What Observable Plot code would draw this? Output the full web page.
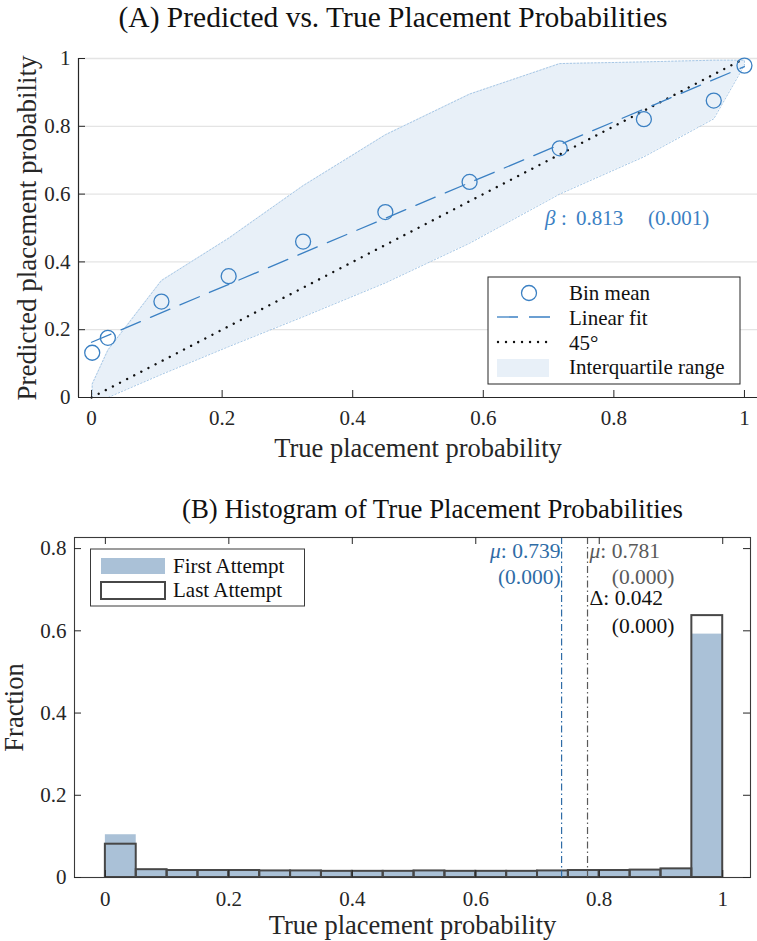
<!DOCTYPE html>
<html><head><meta charset="utf-8">
<script src="https://cdn.jsdelivr.net/npm/d3@7"></script>
<script src="https://cdn.jsdelivr.net/npm/@observablehq/plot@0.6"></script>
<style>
body{margin:0;background:#fff;}
svg{display:block;}
svg text, svg tspan{font-family:"Liberation Serif", serif !important;}
</style></head><body>
<script>
// ---------- Panel A data ----------
const titleA = "(A) Predicted vs. True Placement Probabilities";
const binX    = [0.001, 0.025, 0.107, 0.210, 0.324, 0.450, 0.579, 0.717, 0.846, 0.953, 1.000];
const binMean = [0.132, 0.176, 0.283, 0.358, 0.460, 0.547, 0.636, 0.735, 0.821, 0.876, 0.979];
const iqrHigh = [0.040, 0.140, 0.345, 0.470, 0.625, 0.775, 0.895, 0.985, 0.990, 0.995, 0.995];
const iqrLow  = [0.000, 0.000, 0.068, 0.150, 0.238, 0.338, 0.455, 0.600, 0.710, 0.822, 0.980];
const fitSlope = 0.813, fitSlopeSE = 0.001, fitIntercept = 0.163;
const lineX = [0, 1];
const xTicksA = [0, 0.2, 0.4, 0.6, 0.8, 1];
const yTicksA = [0, 0.2, 0.4, 0.6, 0.8, 1];
const xLabel = "True placement probability";
const yLabelA = "Predicted placement probability";
const legendA = ["Bin mean", "Linear fit", "45°", "Interquartile range"];

// ---------- Panel B data ----------
const titleB = "(B) Histogram of True Placement Probabilities";
const binWidth = 0.05;
const binStart = [0,0.05,0.1,0.15,0.2,0.25,0.3,0.35,0.4,0.45,0.5,0.55,0.6,0.65,0.7,0.75,0.8,0.85,0.9,0.95];
const firstAttempt = [0.104,0.018,0.016,0.016,0.016,0.015,0.015,0.015,0.014,0.014,0.015,0.015,0.015,0.015,0.016,0.018,0.018,0.019,0.022,0.592];
const lastAttempt  = [0.081,0.019,0.017,0.017,0.017,0.016,0.016,0.015,0.015,0.015,0.016,0.015,0.015,0.015,0.016,0.017,0.017,0.018,0.021,0.637];
const meanFirst = 0.739, meanLast = 0.781, meanDiff = 0.042;
const seFirst = 0.000, seLast = 0.000, seDiff = 0.000;
const xTicksB = [0, 0.2, 0.4, 0.6, 0.8, 1];
const yTicksB = [0, 0.2, 0.4, 0.6, 0.8];
const yLabelB = "Fraction";
const seriesB = ["First Attempt", "Last Attempt"];

// ---------- styles ----------
const FONT = "Liberation Serif";
const blue = "#3b80c3";
const axisCol = "#262626";
const fmt = d => String(d);

// ---------- Panel A ----------
const bins = binX.map((x, i) => ({x, y: binMean[i], lo: iqrLow[i], hi: iqrHigh[i]}));
const outline = [...bins.map(d => ({x: d.x, y: d.hi})), ...bins.slice().reverse().map(d => ({x: d.x, y: d.lo})), {x: bins[0].x, y: bins[0].hi}];
const fitLine = lineX.map(x => ({x, y: fitIntercept + fitSlope * x}));
const diag = lineX.map(x => ({x, y: x}));
const xDomA = [-0.02, 1.02];
const hA = 470, mtA = 58, mbA = 73, mlA = 78, mrA = 0;
const frameHA = hA - mtA - mbA, frameWA = 757 - mlA - mrA;

const plotA = Plot.plot({
  width: 757, height: hA, marginLeft: mlA, marginRight: mrA, marginTop: mtA, marginBottom: mbA,
  style: {fontFamily: FONT, fontSize: "21px", color: axisCol, background: "white", overflow: "visible"},
  x: {domain: xDomA},
  y: {domain: [0, 1]},
  marks: [
    Plot.ruleY(yTicksA.slice(1), {y: d => d, stroke: "#e4e4e4", strokeWidth: 1.3}),
    Plot.areaY(bins, {x: "x", y1: "lo", y2: "hi", fill: "#e8f0f8", curve: "linear"}),
    Plot.line(outline, {x: "x", y: "y", stroke: "#a8c8e6", strokeWidth: 1, strokeDasharray: "1.5,2"}),
    Plot.line(diag, {x: "x", y: "y", stroke: "#111", strokeWidth: 2.4, strokeDasharray: "0.01,8", strokeLinecap: "round"}),
    Plot.line(fitLine, {x: "x", y: "y", stroke: blue, strokeWidth: 1.3, strokeDasharray: "21,11"}),
    Plot.dot(bins, {x: "x", y: "y", r: 7.5, stroke: blue, strokeWidth: 1.3, fill: "none"}),
    Plot.ruleY([0], {stroke: axisCol, strokeWidth: 1.2}),
    Plot.ruleX([xDomA[0]], {stroke: axisCol, strokeWidth: 1.2}),
    Plot.tickX(xTicksA, {x: d => d, insetTop: frameHA - 7, stroke: axisCol}),
    Plot.tickY(yTicksA, {y: d => d, insetRight: frameWA - 7, stroke: axisCol}),
    Plot.axisX({ticks: xTicksA, tickSize: 0, tickPadding: 13, tickFormat: fmt, label: null}),
    Plot.axisY({ticks: yTicksA, tickSize: 0, tickPadding: 8, tickFormat: fmt, label: null}),
    Plot.text([xLabel], {text: d => d, frameAnchor: "bottom", textAnchor: "middle", lineAnchor: "middle", dy: 51, fontSize: 26.5}),
    Plot.text([yLabelA], {text: d => d, frameAnchor: "left", textAnchor: "middle", lineAnchor: "middle", rotate: -90, dx: -51, fontSize: 27}),
    Plot.text([titleA], {text: d => d, frameAnchor: "top", textAnchor: "middle", lineAnchor: "middle", dx: -25, dy: -41, fontSize: 29.5, fill: "#111"})
  ]
});
document.body.appendChild(plotA);

{
  const s = d3.select(plotA);
  const g = s.append("g").attr("font-family", FONT).attr("font-size", 21).attr("fill", "#111").attr("text-anchor", "start");
  g.append("rect").attr("x", 488).attr("y", 277).attr("width", 252).attr("height", 107)
    .attr("fill", "white").attr("stroke", axisCol).attr("stroke-width", 1);
  g.append("circle").attr("cx", 529).attr("cy", 293).attr("r", 7.5).attr("fill", "none").attr("stroke", blue).attr("stroke-width", 1.3);
  g.append("line").attr("x1", 497).attr("x2", 553).attr("y1", 317).attr("y2", 317).attr("stroke", blue).attr("stroke-width", 1.3).attr("stroke-dasharray", "21,11");
  g.append("line").attr("x1", 498).attr("x2", 553).attr("y1", 342).attr("y2", 342).attr("stroke", "#111").attr("stroke-width", 2.4).attr("stroke-dasharray", "0.01,8").attr("stroke-linecap", "round");
  g.append("rect").attr("x", 497).attr("y", 359).attr("width", 52).attr("height", 18).attr("fill", "#e8f0f8");
  const ys = [293, 318, 343, 367];
  legendA.forEach((t, i) => g.append("text").attr("x", 569).attr("y", ys[i]).attr("dy", "0.35em").text(t));

  const b = s.append("text").attr("font-family", FONT).attr("font-size", 21).attr("fill", blue).attr("text-anchor", "start").attr("y", 218).attr("dy", "0.35em");
  b.append("tspan").attr("x", 545).attr("font-style", "italic").text("β");
  b.append("tspan").attr("x", 561).text(":");
  b.append("tspan").attr("x", 576).text(fitSlope.toFixed(3));
  b.append("tspan").attr("x", 648).text(`(${fitSlopeSE.toFixed(3)})`);
}

// ---------- Panel B ----------
const hist = binStart.map((x1, i) => ({x1, x2: x1 + binWidth, first: firstAttempt[i], last: lastAttempt[i]}));
const hB = 471, mtB = 67, mbB = 64, mlB = 74, mrB = 7;
const frameHB = hB - mtB - mbB, frameWB = 757 - mlB - mrB;
const barFill = "#aac1d7", barEdge = "#474747";
const blueDark = "#2f6ca6", grayMu = "#5a5a5a";
const ann = {frameAnchor: "top", lineAnchor: "middle", fontSize: 21.5};

const plotB = Plot.plot({
  width: 757, height: hB, marginLeft: mlB, marginRight: mrB, marginTop: mtB, marginBottom: mbB,
  style: {fontFamily: FONT, fontSize: "21px", color: axisCol, background: "white", overflow: "visible"},
  x: {domain: [-0.05, 1.045]},
  y: {domain: [0, 0.827]},
  marks: [
    Plot.rect(hist, {x1: "x1", x2: "x2", y1: 0, y2: "first", fill: barFill}),
    Plot.rect(hist, {x1: "x1", x2: "x2", y1: 0, y2: "last", fill: "none", stroke: barEdge, strokeWidth: 2}),
    Plot.ruleX([meanFirst], {x: d => d, stroke: blueDark, strokeWidth: 1.2, strokeDasharray: "7,3,1.5,3"}),
    Plot.ruleX([meanLast], {x: d => d, stroke: grayMu, strokeWidth: 1.2, strokeDasharray: "7,3,1.5,3"}),
    Plot.frame({stroke: "#3a3a3a", strokeWidth: 1.1}),
    Plot.tickX(xTicksB, {x: d => d, insetTop: frameHB - 7, stroke: axisCol}),
    Plot.tickX(xTicksB, {x: d => d, insetBottom: frameHB - 7, stroke: axisCol}),
    Plot.tickY(yTicksB, {y: d => d, insetRight: frameWB - 7, stroke: axisCol}),
    Plot.tickY(yTicksB, {y: d => d, insetLeft: frameWB - 7, stroke: axisCol}),
    Plot.axisX({ticks: xTicksB, tickSize: 0, tickPadding: 14, tickFormat: fmt, label: null}),
    Plot.axisY({ticks: yTicksB, tickSize: 0, tickPadding: 8, tickFormat: fmt, label: null}),
    Plot.text([meanFirst], {...ann, x: d => d, text: d => `μ: ${d.toFixed(3)}`, dy: 14, dx: -1, textAnchor: "end", fill: blueDark}),
    Plot.text([seFirst], {...ann, x: () => meanFirst, text: d => `(${d.toFixed(3)})`, dy: 40, dx: -1, textAnchor: "end", fill: blueDark}),
    Plot.text([meanLast], {...ann, x: d => d, text: d => `μ: ${d.toFixed(3)}`, dy: 14, dx: 2, textAnchor: "start", fill: grayMu}),
    Plot.text([seLast], {...ann, x: () => meanLast, text: d => `(${d.toFixed(3)})`, dy: 40, dx: 87, textAnchor: "end", fill: grayMu}),
    Plot.text([meanDiff], {...ann, x: () => meanLast, text: d => `Δ: ${d.toFixed(3)}`, dy: 61, dx: 2, textAnchor: "start", fill: "#111"}),
    Plot.text([seDiff], {...ann, x: () => meanLast, text: d => `(${d.toFixed(3)})`, dy: 89, dx: 87, textAnchor: "end", fill: "#111"}),
    Plot.text([xLabel], {text: d => d, frameAnchor: "bottom", textAnchor: "middle", lineAnchor: "middle", dy: 48, fontSize: 26.5}),
    Plot.text([yLabelB], {text: d => d, frameAnchor: "left", textAnchor: "middle", lineAnchor: "middle", rotate: -90, dx: -60, fontSize: 26.5}),
    Plot.text([titleB], {text: d => d, frameAnchor: "top", textAnchor: "middle", lineAnchor: "middle", dx: 20, dy: -28, fontSize: 26.8, fill: "#111"})
  ]
});
document.body.appendChild(plotB);

{
  const s = d3.select(plotB);
  // italic μ in the mean annotations
  s.selectAll("text").each(function() {
    const el = d3.select(this);
    const t = this.textContent;
    if (this.children.length === 0 && t.startsWith("μ:")) {
      el.text(null);
      el.append("tspan").attr("font-style", "italic").text("μ");
      el.append("tspan").text(t.slice(1));
    }
  });
  const g = s.append("g").attr("font-family", FONT).attr("font-size", 21).attr("fill", "#111").attr("text-anchor", "start");
  g.append("rect").attr("x", 90.5).attr("y", 79).attr("width", 214).attr("height", 57)
    .attr("fill", "white").attr("stroke", "#3a3a3a").attr("stroke-width", 1);
  g.append("rect").attr("x", 101).attr("y", 88).attr("width", 64).attr("height", 16).attr("fill", barFill);
  g.append("rect").attr("x", 101).attr("y", 112).attr("width", 64).attr("height", 17).attr("fill", "white").attr("stroke", barEdge).attr("stroke-width", 2);
  g.append("text").attr("x", 173).attr("y", 96).attr("dy", "0.35em").text(seriesB[0]);
  g.append("text").attr("x", 173).attr("y", 120).attr("dy", "0.35em").text(seriesB[1]);
}
</script>
</body></html>
